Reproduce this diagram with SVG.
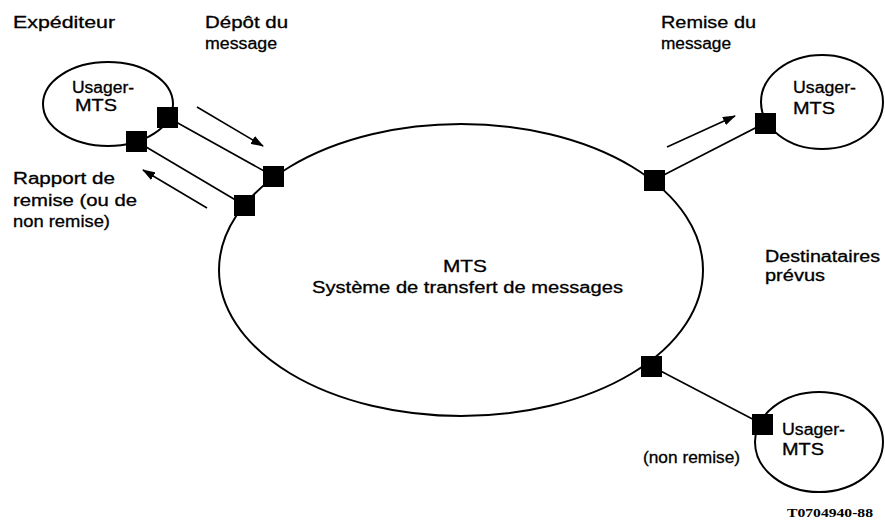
<svg xmlns="http://www.w3.org/2000/svg" width="885" height="527" viewBox="0 0 885 527">
  <style>
    text { font-family: "Liberation Sans", Arial, sans-serif; font-size: 16px; fill: #000; stroke: #000; stroke-width: 0.3; }
    .big { font-size: 17px; }
    .ring { fill: none; stroke: #000; stroke-width: 2; }
    .port { fill: #000; }
    .link { stroke: #000; stroke-width: 1.6; fill: none; }
    .flow { stroke: #000; stroke-width: 1.6; fill: none; marker-end: url(#head); }
    .ref { font-family: "Liberation Serif", "Times New Roman", serif; font-size: 12px; font-weight: bold; stroke-width: 0; }
  </style>
  <defs>
    <marker id="head" viewBox="0 0 13 9" refX="12" refY="4.5" markerWidth="13" markerHeight="9" markerUnits="userSpaceOnUse" orient="auto">
      <path d="M0,0 L13,4.5 L0,9 z" fill="#000"/>
    </marker>
  </defs>

  <rect width="885" height="527" fill="#fff"/>

  <!-- connectors between access points -->
  <g id="connectors">
    <line class="link" x1="167" y1="117" x2="273" y2="176"/>
    <line class="link" x1="136" y1="141" x2="244" y2="205"/>
    <line class="link" x1="654" y1="180" x2="765" y2="123"/>
    <line class="link" x1="651" y1="366" x2="762" y2="424"/>
    <line class="flow" x1="197" y1="107" x2="263" y2="146"/>
    <line class="flow" x1="207" y1="208" x2="143" y2="170"/>
    <line class="flow" x1="667" y1="147" x2="735" y2="116"/>
  </g>

  <!-- message transfer system -->
  <g id="mts">
    <ellipse class="ring" cx="461" cy="270" rx="242" ry="146"/>
    <rect class="port" x="263" y="166" width="21" height="21"/>
    <rect class="port" x="234" y="195" width="21" height="21"/>
    <rect class="port" x="644" y="170" width="21" height="21"/>
    <rect class="port" x="641" y="356" width="21" height="21"/>
    <text class="big" x="465" y="272" text-anchor="middle" textLength="44" lengthAdjust="spacingAndGlyphs">MTS</text>
    <text x="312" y="293" textLength="311" lengthAdjust="spacingAndGlyphs">Système de transfert de messages</text>
  </g>

  <!-- originator -->
  <g id="originator">
    <ellipse class="ring" cx="108" cy="104" rx="65" ry="42"/>
    <rect class="port" x="157" y="107" width="21" height="21"/>
    <rect class="port" x="126" y="131" width="21" height="21"/>
    <text x="72" y="93" textLength="62" lengthAdjust="spacingAndGlyphs">Usager-</text>
    <text x="75" y="111" textLength="42" lengthAdjust="spacingAndGlyphs">MTS</text>
  </g>

  <!-- recipient (delivered) -->
  <g id="recipient-delivered">
    <ellipse class="ring" cx="822" cy="102" rx="61" ry="47"/>
    <rect class="port" x="755" y="113" width="21" height="21"/>
    <text x="793" y="93" textLength="63" lengthAdjust="spacingAndGlyphs">Usager-</text>
    <text x="793" y="114" textLength="42" lengthAdjust="spacingAndGlyphs">MTS</text>
  </g>

  <!-- recipient (not delivered) -->
  <g id="recipient-undelivered">
    <ellipse class="ring" cx="819" cy="442" rx="64" ry="50"/>
    <rect class="port" x="752" y="414" width="21" height="21"/>
    <text x="782" y="435" textLength="63" lengthAdjust="spacingAndGlyphs">Usager-</text>
    <text x="782" y="455" textLength="42" lengthAdjust="spacingAndGlyphs">MTS</text>
  </g>

  <!-- labels -->
  <g id="labels">
    <text x="13" y="28" textLength="102" lengthAdjust="spacingAndGlyphs">Expéditeur</text>
    <text x="205" y="28" textLength="83" lengthAdjust="spacingAndGlyphs">Dépôt du</text>
    <text x="205" y="49" textLength="72" lengthAdjust="spacingAndGlyphs">message</text>
    <text x="661" y="28" textLength="95" lengthAdjust="spacingAndGlyphs">Remise du</text>
    <text x="661" y="49" textLength="70" lengthAdjust="spacingAndGlyphs">message</text>
    <text x="13" y="184" textLength="102" lengthAdjust="spacingAndGlyphs">Rapport de</text>
    <text x="13" y="206" textLength="124" lengthAdjust="spacingAndGlyphs">remise (ou de</text>
    <text x="13" y="227" textLength="97" lengthAdjust="spacingAndGlyphs">non remise)</text>
    <text x="765" y="262" textLength="115" lengthAdjust="spacingAndGlyphs">Destinataires</text>
    <text x="765" y="281" textLength="60" lengthAdjust="spacingAndGlyphs">prévus</text>
    <text x="643" y="463" textLength="97" lengthAdjust="spacingAndGlyphs">(non remise)</text>
    <text class="ref" x="787" y="517" textLength="86" lengthAdjust="spacingAndGlyphs">T0704940-88</text>
  </g>
</svg>
